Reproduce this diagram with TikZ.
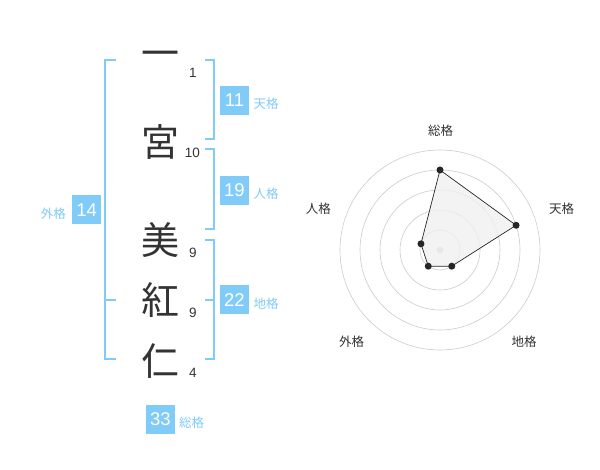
\documentclass[tikz,border=0pt]{standalone}
\usepackage{fontspec}
\setmainfont{Liberation Sans}
\newfontfamily\jpfont{Noto Sans CJK JP}
\usetikzlibrary{calc}
\definecolor{kakublue}{HTML}{80CBF8}
\definecolor{inkgrey}{HTML}{333333}
\definecolor{ringgrey}{HTML}{CCCCCC}
\tikzset{
	namechar/.style={text=inkgrey, font=\jpfont\fontsize{38}{38}\selectfont, inner sep=0pt},
	strokenum/.style={text=inkgrey, font=\fontsize{13.5}{14}\selectfont, inner sep=0pt},
	kakubox/.style={fill=kakublue, text=white, minimum size=29pt, inner sep=0pt, font=\fontsize{18.5}{19}\selectfont},
	kakulbl/.style={text=kakublue, font=\jpfont\fontsize{12.5}{13}\selectfont, inner sep=0pt},
	axislbl/.style={text=inkgrey, font=\jpfont\fontsize{12.5}{13}\selectfont, inner sep=0pt},
	bracket/.style={draw=kakublue, line width=2pt},
	ring/.style={draw=ringgrey, line width=0.6pt},
}

\begin{document}
\begin{tikzpicture}[x=1pt, y=-1pt]
			%%%%% START %%%%%
			
			\fill[white] (0,0) rectangle (600,470);
			\useasboundingbox (0,0) rectangle (600,470);
			
			% name characters and stroke counts
			\node[namechar] (c1) at (160, 59) {一};
			\node[namechar] (c2) at (160, 141.7) {宮};
			\node[namechar] (c3) at (160, 240) {美};
			\node[namechar] (c4) at (160, 300) {紅};
			\node[namechar] (c5) at (160, 361) {仁};
			
			\node[strokenum] (n1) at (193, 73.3) {1};
			\node[strokenum] (n2) at (192.3, 152.7) {10};
			\node[strokenum] (n3) at (193, 252.7) {9};
			\node[strokenum] (n4) at (193, 312.7) {9};
			\node[strokenum] (n5) at (193, 373.3) {4};
			
			% brackets
			\draw[bracket] (116, 60) -- (105, 60) -- (105, 359.3) -- (116, 359.3);
			\draw[bracket] (105, 300) -- (116, 300);
			
			\draw[bracket] (205, 60) -- (214.3, 60) -- (214.3, 139.3) -- (205, 139.3);
			\draw[bracket] (205, 149.3) -- (214.3, 149.3) -- (214.3, 229.3) -- (205, 229.3);
			\draw[bracket] (205, 240) -- (214.3, 240) -- (214.3, 359.3) -- (205, 359.3);
			\draw[bracket] (205, 300) -- (214.3, 300);
			
			% scores
			\node[kakubox] (ten) at (234.5, 100.5) {11};
			\node[kakulbl] (tenl) at (266, 103.3) {天格};
			\node[kakubox] (jin) at (234.5, 190.5) {19};
			\node[kakulbl] (jinl) at (266, 193.3) {人格};
			\node[kakubox] (chi) at (234.5, 300) {22};
			\node[kakulbl] (chil) at (266, 303.5) {地格};
			\node[kakubox] (gai) at (86.7, 210) {14};
			\node[kakulbl] (gail) at (53.3, 213.5) {外格};
			\node[kakubox] (sou) at (160.3, 419) {33};
			\node[kakulbl] (soul) at (191.7, 422.7) {総格};
			
			% radar
			\begin{scope}[shift={(440,250)}, yscale=-1]
				\foreach \r in {20,40,...,100}
					\draw[ring] (0,0) circle (\r pt);
				\fill[ringgrey] (0,0) circle (3.5pt);
				\coordinate (psou) at (90:80);
				\coordinate (pten) at (18:80);
				\coordinate (pchi) at (-54:20);
				\coordinate (pgai) at (-126:20);
				\coordinate (pjin) at (162:20);
				\draw[fill=black!6, fill opacity=0.8, draw=black!85, line width=0.7pt] (psou) -- (pten) -- (pchi) -- (pgai) -- (pjin) -- cycle;
				\foreach \p in {psou,pten,pchi,pgai,pjin}
					\fill[black!85] (\p) circle (3.5pt);
			\end{scope}
			
			\node[axislbl] (asou) at (440.7, 130.7) {総格};
			\node[axislbl] (aten) at (561.7, 208.3) {天格};
			\node[axislbl] (achi) at (524, 341.7) {地格};
			\node[axislbl] (agai) at (351.7, 341.7) {外格};
			\node[axislbl] (ajin) at (318.3, 208.3) {人格};
			
			%%%%% END %%%%%
		\end{tikzpicture}
\end{document}
